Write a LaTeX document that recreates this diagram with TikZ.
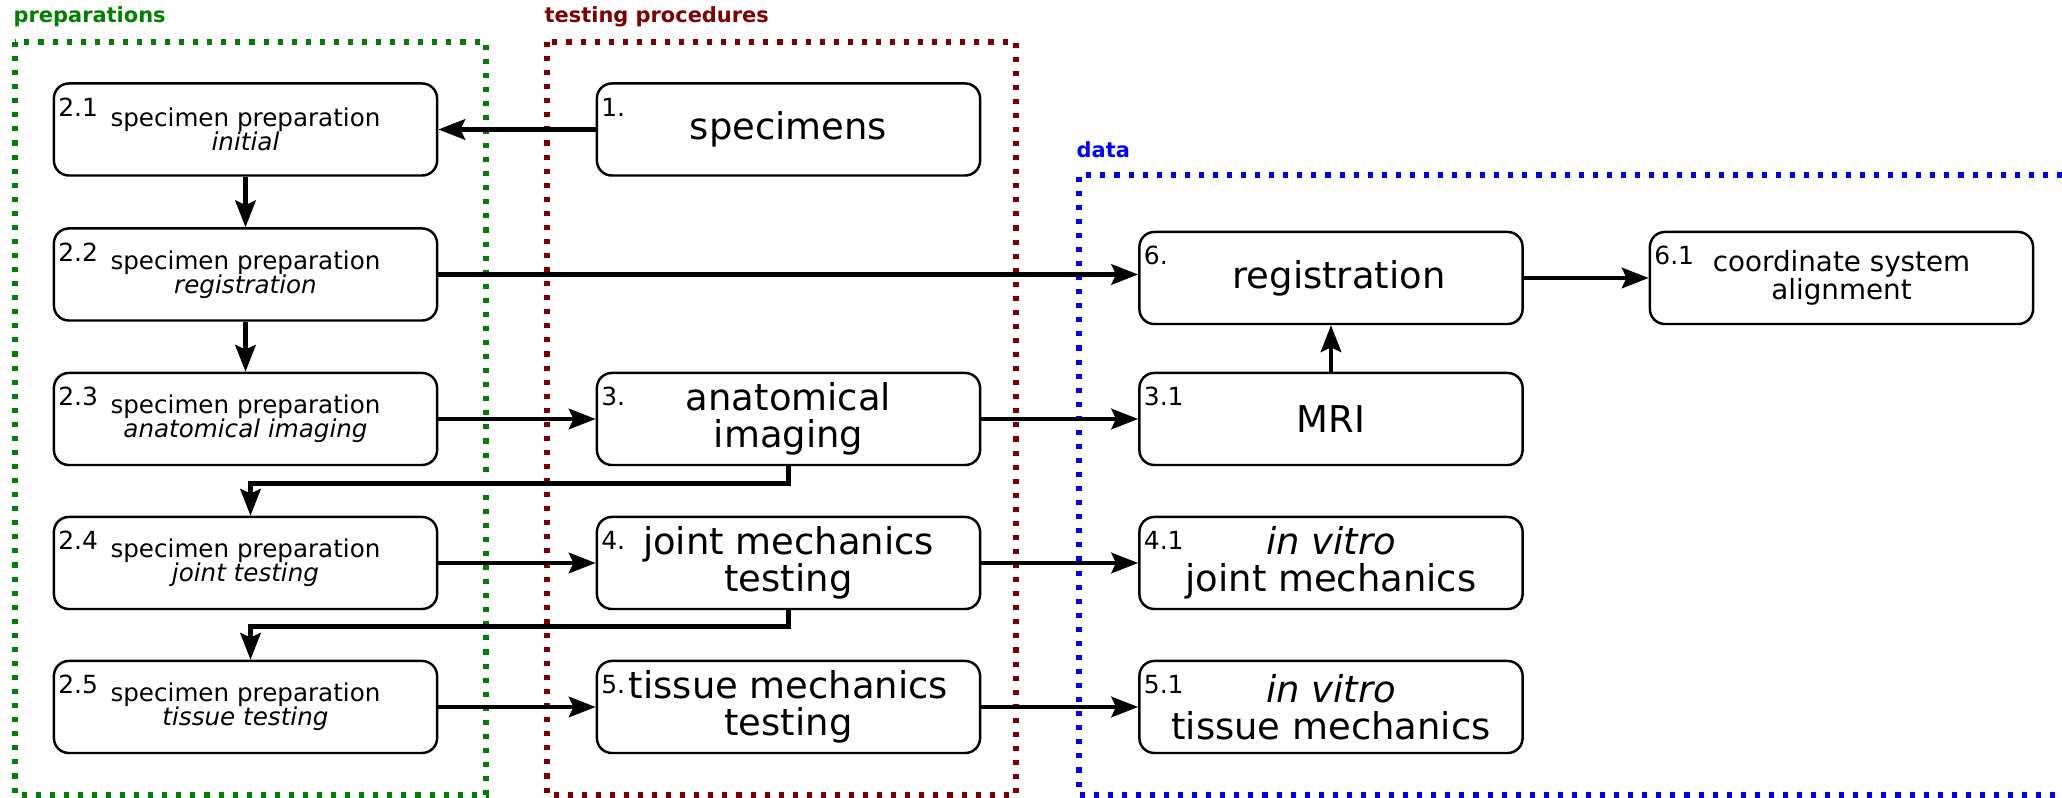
\documentclass[tikz,border=0pt]{standalone}
\usepackage{fontspec}
\setmainfont{DejaVu Sans}
\usepackage{xcolor}
\usepackage{tikz}
\usetikzlibrary{arrows.meta,calc}
\definecolor{prepgreen}{RGB}{0,128,0}
\definecolor{testred}{RGB}{128,0,0}
\definecolor{datablue}{RGB}{0,0,255}
\tikzset{
  box/.style={draw, rounded corners=0.15cm, line width=0.7pt, minimum width=3.83cm, minimum height=0.92cm, inner sep=0pt, align=center},
  prep/.style={box, font=\fontsize{7}{6.85}\selectfont},
  stage/.style={box, font=\fontsize{10.5}{10.4}\selectfont},
  result/.style={box, font=\fontsize{7.9}{7.95}\selectfont},
  num/.style={inner sep=0pt, anchor=north west, font=\fontsize{7.1}{7.1}\selectfont},
  arrow/.style={-{Stealth[length=7.6pt, width=5.8pt, inset=1.3pt]}, line width=1.3pt},
  group/.style={line width=1.45pt, dash pattern=on 1.45pt off 2.55pt},
  grouplabel/.style={inner sep=0pt, anchor=base west, font=\bfseries\fontsize{5.95}{6}\selectfont}
}

\begin{document}
\begin{tikzpicture}[x=0.01cm, y=-0.01cm]
    \useasboundingbox (0,0) rectangle (2062,798);
    % Groups
    \draw[group, prepgreen] (15,42) rectangle (486,795);
    \draw[group, testred] (547,42) rectangle (1016,795);
    \draw[group, datablue] (2062,175) -- (1079,175) -- (1079,795) -- (2062,795);
    \node[grouplabel, prepgreen] (lprep) at (13,23) {preparations};
    \node[grouplabel, testred] (ltest) at (544,23) {testing procedures};
    \node[grouplabel, datablue] (ldata) at (1076,158) {data};
    % Preparations
    \node[prep] (b21) at (245.5,129.5) {specimen preparation\\\textit{initial}};
    \node[prep] (b22) at (245.5,274.5) {specimen preparation\\\textit{registration}};
    \node[prep] (b23) at (245.5,419) {specimen preparation\\\textit{anatomical imaging}};
    \node[prep] (b24) at (245.5,563) {specimen preparation\\\textit{joint testing}};
    \node[prep] (b25) at (245.5,707) {specimen preparation\\\textit{tissue testing}};
    % Testing procedures
    \node[stage] (spec) at (788.5,129.5) {specimens};
    \node[stage] (img) at (788.5,419) {anatomical\\imaging};
    \node[stage] (joint) at (788.5,563) {joint mechanics\\testing};
    \node[stage] (tissue) at (788.5,707) {tissue mechanics\\testing};
    % Data
    \node[stage] (reg) at (1331,278) {\hspace*{0.16cm}registration};
    \node[result] (align) at (1841.5,278) {coordinate system\\alignment};
    \node[stage] (mri) at (1331,419) {MRI};
    \node[stage] (vjoint) at (1331,563) {\textit{in vitro}\\joint mechanics};
    \node[stage] (vtissue) at (1331,707) {\textit{in vitro}\\tissue mechanics};
    % Numbers
    \foreach \b/\n in {b21/2.1, b22/2.2, b23/2.3, b24/2.4, b25/2.5, spec/1., img/3., joint/4., tissue/5., reg/6., align/6.1, mri/3.1, vjoint/4.1, vtissue/5.1}
      \node[num] (n-\b) at ([xshift=0.05cm, yshift=-0.15cm]\b.north west) {\n};
    % Connections
    \draw[arrow] (spec) -- (b21);
    \draw[arrow] (b21) -- (b22);
    \draw[arrow] (b22) -- (b23);
    \draw[arrow] (b22.east) -- (b22.east -| reg.west);
    \draw[arrow] (reg) -- (align);
    \draw[arrow] (b23) -- (img);
    \draw[arrow] (img) -- (mri);
    \draw[arrow] (mri) -- (reg);
    \draw[arrow] (img.south) -- ++(0,17) -| ([xshift=0.05cm]b24.north);
    \draw[arrow] (b24) -- (joint);
    \draw[arrow] (joint) -- (vjoint);
    \draw[arrow] (joint.south) -- ++(0,16) -| ([xshift=0.05cm]b25.north);
    \draw[arrow] (b25) -- (tissue);
    \draw[arrow] (tissue) -- (vtissue);
  \end{tikzpicture}
\end{document}
